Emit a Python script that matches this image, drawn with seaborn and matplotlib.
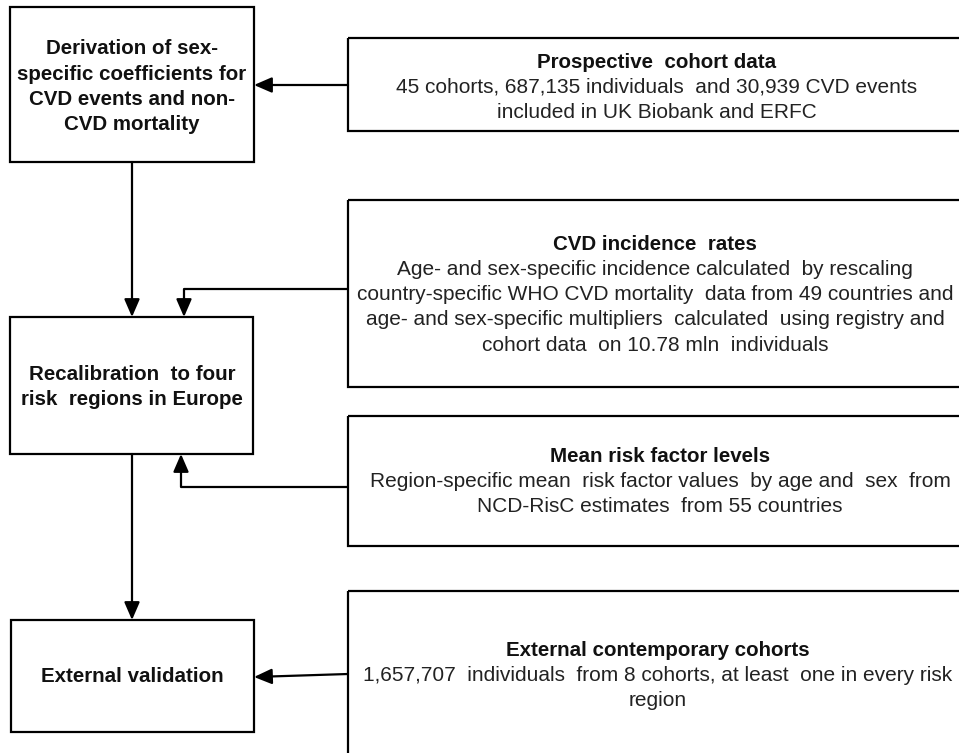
import matplotlib
matplotlib.use("Agg")
import matplotlib.pyplot as plt
import seaborn as sns
from matplotlib.patches import Rectangle

# Setting plot style
sns.set_style("white")
plt.rcParams['font.family'] = ['Liberation Sans', 'DejaVu Sans']

# ---------- text of the flowchart ----------

left_labels = [
    ["Derivation of sex-", "specific coefficients for", "CVD events and non-", "CVD mortality"],
    ["Recalibration  to four", "risk  regions in Europe"],
    ["External validation"],
]

right_titles = [
    "Prospective  cohort data",
    "CVD incidence  rates",
    "Mean risk factor levels",
    "External contemporary cohorts",
]

right_lines = [
    ["45 cohorts, 687,135 individuals  and 30,939 CVD events",
     "included in UK Biobank and ERFC"],
    ["Age- and sex-specific incidence calculated  by rescaling",
     "country-specific WHO CVD mortality  data from 49 countries and",
     "age- and sex-specific multipliers  calculated  using registry and",
     "cohort data  on 10.78 mln  individuals"],
    ["Region-specific mean  risk factor values  by age and  sex  from",
     "NCD-RisC estimates  from 55 countries"],
    ["1,657,707  individuals  from 8 cohorts, at least  one in every risk",
     "region"],
]

# ---------- layout (pixels, y down) ----------

left_boxes = [(10, 7, 244, 155), (10, 317, 243, 137), (11, 620, 243, 112)]
left_text_y = [[48, 74, 99, 124], [374, 399], [676]]
left_cx = 132

right_boxes = [(348, 38, 660, 93), (348, 200, 660, 187), (348, 416, 660, 130), (348, 591, 660, 220)]
right_cx = [657, 655, 660, 658]
right_title_y = [62, 244, 456, 650]
line_gap = 25.3

fs_bold = 14.8
fs_reg = 15.0
lw = 1.6
arrow_style = "-|>,head_length=0.6,head_width=0.26"

fig = plt.figure(figsize=(9.59, 7.53), dpi=100)
ax = fig.add_axes([0, 0, 1, 1])
ax.set_xlim(0, 959)
ax.set_ylim(753, 0)
ax.axis('off')

# boxes
for (x, y, w, h) in left_boxes + right_boxes:
    ax.add_patch(Rectangle((x, y), w, h, fill=False, ec='black', lw=lw))

# left box text (bold)
for lines, ys in zip(left_labels, left_text_y):
    for txt, y in zip(lines, ys):
        ax.text(left_cx, y, txt, ha='center', va='center', fontsize=fs_bold,
                fontweight='bold', color='#111111')

# right box text
for title, lines, cx, ty in zip(right_titles, right_lines, right_cx, right_title_y):
    ax.text(cx, ty, title, ha='center', va='center', fontsize=fs_bold,
            fontweight='bold', color='#111111')
    for i, txt in enumerate(lines):
        ax.text(cx, ty + line_gap * (i + 1), txt, ha='center', va='center',
                fontsize=fs_reg, color='#222222')


def arrow(p0, p1):
    ax.annotate("", xy=p1, xytext=p0,
                arrowprops=dict(arrowstyle=arrow_style, mutation_scale=18,
                                color='black', lw=lw, shrinkA=0, shrinkB=0))


# straight arrows
arrow((348, 85), (254, 85))
arrow((132, 162), (132, 317))
arrow((132, 454), (132, 620))
arrow((348, 674), (254, 677))

# elbow connectors
ax.plot([348, 184, 184], [289, 289, 300], color='black', lw=lw, solid_capstyle='butt')
arrow((184, 298), (184, 317))
ax.plot([348, 181, 181], [487, 487, 470], color='black', lw=lw, solid_capstyle='butt')
arrow((181, 472), (181, 454))

plt.savefig('out.png', dpi=100)
